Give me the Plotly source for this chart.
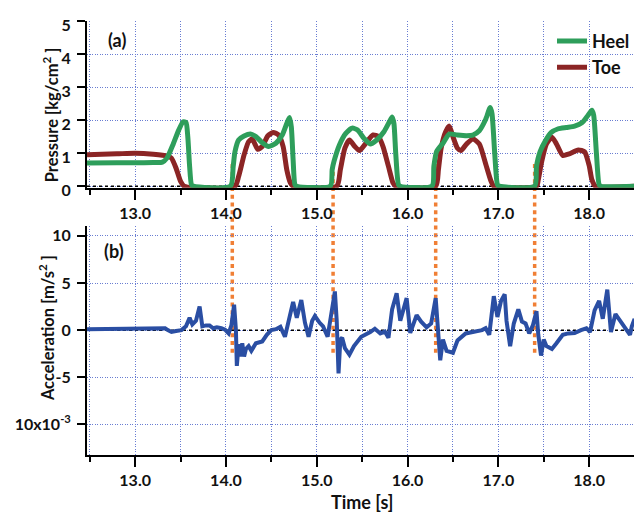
import plotly.graph_objects as go

# ---------------- data ----------------
heel_t = [12.47, 12.8, 13.0, 13.2, 13.30, 13.35, 13.42, 13.48, 13.53, 13.56, 13.58, 13.60, 13.62, 13.64,
          14.05, 14.08, 14.10, 14.14, 14.20, 14.27, 14.33, 14.40, 14.47, 14.55, 14.62, 14.67, 14.70, 14.72, 14.74, 14.76, 14.78,
          15.15, 15.17, 15.19, 15.25, 15.32, 15.39, 15.45, 15.52, 15.59, 15.66, 15.74, 15.80, 15.83, 15.85, 15.87, 15.90, 15.92,
          16.27, 16.29, 16.32, 16.39, 16.46, 16.55, 16.65, 16.72, 16.79, 16.86, 16.91, 16.93, 16.96, 16.99, 17.01,
          17.40, 17.42, 17.46, 17.52, 17.58, 17.66, 17.75, 17.84, 17.92, 17.98, 18.03, 18.05, 18.08, 18.11, 18.13, 18.50]
heel_p = [0.70, 0.71, 0.71, 0.72, 0.73, 0.85, 1.28, 1.70, 1.95, 1.93, 1.50, 0.60, 0.05, 0.0,
          0.0, 0.60, 1.05, 1.40, 1.52, 1.58, 1.50, 1.32, 1.20, 1.30, 1.55, 1.90, 2.08, 1.80, 0.80, 0.05, 0.0,
          0.0, 0.50, 0.75, 1.25, 1.60, 1.76, 1.70, 1.45, 1.28, 1.40, 1.65, 1.95, 2.10, 1.90, 1.00, 0.05, 0.0,
          0.0, 0.60, 1.05, 1.30, 1.58, 1.55, 1.53, 1.55, 1.68, 2.02, 2.38, 2.20, 1.00, 0.05, 0.0,
          0.0, 0.60, 1.05, 1.38, 1.62, 1.74, 1.78, 1.82, 1.92, 2.12, 2.30, 2.15, 1.00, 0.05, 0.0, 0.0]

toe_t = [12.47, 12.8, 13.0, 13.2, 13.35, 13.40, 13.45, 13.50, 13.54,
         14.10, 14.14, 14.20, 14.25, 14.29, 14.35, 14.40, 14.46, 14.52, 14.58, 14.63, 14.67, 14.71, 14.74,
         15.22, 15.26, 15.31, 15.36, 15.42, 15.47, 15.54, 15.62, 15.68, 15.73, 15.79, 15.84, 15.87,
         16.31, 16.34, 16.37, 16.42, 16.46, 16.50, 16.55, 16.59, 16.65, 16.72, 16.79, 16.86, 16.92, 16.95,
         17.42, 17.44, 17.48, 17.53, 17.59, 17.64, 17.71, 17.78, 17.88, 17.95, 18.00, 18.03, 18.07, 18.50]
toe_p = [0.95, 0.98, 1.00, 0.97, 0.92, 0.85, 0.55, 0.15, 0.0,
         0.0, 0.30, 0.95, 1.35, 1.43, 1.12, 1.20, 1.52, 1.63, 1.55, 1.20, 0.50, 0.10, 0.0,
         0.0, 0.50, 1.15, 1.40, 1.20, 1.08, 1.30, 1.55, 1.50, 1.20, 0.60, 0.10, 0.0,
         0.0, 0.50, 1.15, 1.65, 1.82, 1.50, 1.15, 1.08, 1.28, 1.43, 1.28, 0.68, 0.15, 0.0,
         0.0, 0.20, 0.78, 1.28, 1.48, 1.28, 0.93, 0.98, 1.10, 1.04, 0.63, 0.20, 0.0, 0.0]

acc_t = [12.47, 12.8, 13.0, 13.2, 13.33, 13.36, 13.40, 13.45, 13.51, 13.56, 13.60, 13.63, 13.67, 13.71, 13.74,
         13.78, 13.82, 13.86, 13.90, 13.95, 13.99, 14.03, 14.06, 14.09, 14.11, 14.12, 14.14, 14.16, 14.18, 14.20,
         14.22, 14.25, 14.28, 14.33, 14.40, 14.45, 14.50, 14.55, 14.60, 14.65, 14.69, 14.74, 14.78, 14.83, 14.87,
         14.91, 14.95, 14.98, 15.03, 15.07, 15.12, 15.15, 15.20, 15.22, 15.24, 15.26, 15.28, 15.31, 15.36, 15.41,
         15.49, 15.59, 15.64, 15.70, 15.75, 15.79, 15.83, 15.88, 15.92, 15.99, 16.03, 16.10, 16.15, 16.21, 16.26,
         16.31, 16.34, 16.36, 16.39, 16.43, 16.50, 16.55, 16.64, 16.73, 16.82, 16.86, 16.90, 16.95, 16.99, 17.03,
         17.07, 17.09, 17.13, 17.17, 17.22, 17.26, 17.30, 17.34, 17.38, 17.42, 17.44, 17.47, 17.50, 17.53, 17.59,
         17.64, 17.71, 17.77, 17.84, 17.91, 17.97, 18.01, 18.06, 18.11, 18.15, 18.20, 18.24, 18.29, 18.35, 18.40,
         18.45, 18.47, 18.50]
acc_v = [0.1, 0.1, 0.1, 0.12, 0.2, 0.0, -0.2, -0.1, 0.0, 0.4, 1.3, 0.6, 1.0, 2.5, 0.4,
         0.5, 0.5, 0.2, 0.3, 0.2, 0.05, -0.35, 0.5, 2.7, 0.0, -3.8, -1.5, -2.8, -1.4, -2.8,
         -2.0, -1.7, -2.2, -1.4, -1.2, -0.5, 0.0, 0.1, 0.35, -0.7, 0.8, 3.0, 1.3, 3.2, 0.8,
         -0.7, 1.0, 1.5, 0.8, 0.4, -0.7, 1.0, 4.1, 1.0, -4.6, -1.0, -0.8, -1.9, -2.6, -1.7,
         -0.7, -0.2, 0.15, -0.35, -0.15, -0.8, 2.2, 3.9, 1.0, 3.4, -0.3, 1.6, 0.9, 0.3, 0.7,
         3.4, -0.1, -3.2, -1.0, -2.2, -2.4, -1.1, -0.35, -0.2, 0.0, 0.2, -0.5, 3.6, 1.4, 3.1,
         3.8, 1.0, -1.7, 0.7, 2.2, 0.9, 0.7, -0.35, 0.5, 2.0, -0.5, -2.7, -1.0, -1.7, -2.0,
         -1.4, -0.5, -0.35, -0.3, 0.0, 0.2, -0.2, 2.1, 3.1, 1.2, 4.3, -0.2, 1.7, 0.9, 0.2,
         -0.5, 0.4, 1.2]

step_times = [14.07, 15.18, 16.31, 17.40]
step_top_pressure = 0.7
step_bottom_acc = -2.4

x_major_ticks = [13.0, 14.0, 15.0, 16.0, 17.0, 18.0]
y1_ticks = [0, 1, 2, 3, 4, 5]
y2_ticks = [-10, -5, 0, 5, 10]
y2_ticktext = ["10x10<sup>-3</sup>", "-5", "0", "5", "10"]

# ---------------- style ----------------
GREEN = "#2e9e5b"
RED = "#8b2525"
BLUE = "#2a4ea3"
ORANGE = "#f07f35"
GRID = "rgb(105,125,210)"
GRID_DASH = "1px,1.5px"
FONT = "Lato"

x_range = [12.47, 18.505]
y1_range = [-0.045, 5.003]
y2_range = [-13.25, 11.0]
dom1 = [0.6159, 1.0]
dom2 = [0.0, 0.5266]


def to_paper(v, rng, dom):
    return dom[0] + (v - rng[0]) / (rng[1] - rng[0]) * (dom[1] - dom[0])


fig = go.Figure()

# zero reference lines
fig.add_trace(go.Scatter(x=x_range, y=[0, 0], mode="lines", xaxis="x", yaxis="y",
                         line=dict(color="black", width=1.5, dash="dot"), showlegend=False, hoverinfo="skip"))
fig.add_trace(go.Scatter(x=x_range, y=[0, 0], mode="lines", xaxis="x2", yaxis="y2",
                         line=dict(color="black", width=1.5, dash="dot"), showlegend=False, hoverinfo="skip"))

fig.add_trace(go.Scatter(x=toe_t, y=toe_p, mode="lines", name="Toe", xaxis="x", yaxis="y",
                         line=dict(color=RED, width=5, shape="spline", smoothing=0.6), showlegend=True))
fig.add_trace(go.Scatter(x=heel_t, y=heel_p, mode="lines", name="Heel", xaxis="x", yaxis="y",
                         line=dict(color=GREEN, width=5, shape="spline", smoothing=0.6), showlegend=True))
fig.add_trace(go.Scatter(x=acc_t, y=acc_v, mode="lines", name="Acceleration", xaxis="x2", yaxis="y2",
                         line=dict(color=BLUE, width=4), showlegend=False))

# orange dotted step markers spanning both panels
y_top = to_paper(step_top_pressure, y1_range, dom1)
y_bot = to_paper(step_bottom_acc, y2_range, dom2)
for t in step_times:
    fig.add_shape(type="line", xref="x", yref="paper", x0=t, x1=t, y0=y_bot, y1=y_top,
                  line=dict(color=ORANGE, width=3.5, dash="4px,3.7px"), layer="below")

tickfont = dict(family=FONT, size=16, color="#111111", weight="bold")

xaxis_common = dict(
    range=x_range, showline=True, linecolor="black", linewidth=2,
    ticks="outside", ticklen=10, tickwidth=2, tickcolor="black",
    tickmode="array", tickvals=x_major_ticks, ticktext=[f"{v:.1f}" for v in x_major_ticks],
    tickfont=tickfont, showgrid=True, gridcolor=GRID, gridwidth=1, griddash=GRID_DASH,
    minor=dict(dtick=0.5, tick0=12.5, ticks="outside", ticklen=5, tickwidth=2, tickcolor="black",
               showgrid=True, gridcolor=GRID, gridwidth=1, griddash=GRID_DASH),
    zeroline=False,
)

fig.update_layout(
    width=642, height=516,
    margin=dict(l=71, r=15, t=7, b=69),
    paper_bgcolor="white", plot_bgcolor="rgba(0,0,0,0)",
    font=dict(family=FONT, color="#111111"),
    xaxis=dict(**xaxis_common, domain=[0, 1], anchor="y"),
    xaxis2=dict(**xaxis_common, domain=[0, 1], anchor="y2"),
    yaxis=dict(domain=dom1, range=y1_range, anchor="x", showline=True, linecolor="black", linewidth=2,
               ticks="outside", ticklen=8, tickwidth=2, tickcolor="black", ticklabelstandoff=3,
               ticklabelshift=4,
               tickmode="array", tickvals=y1_ticks, tickfont=tickfont, showgrid=True, gridcolor=GRID,
               gridwidth=1, griddash=GRID_DASH, zeroline=False),
    yaxis2=dict(domain=dom2, range=y2_range, anchor="x2", showline=True, linecolor="black", linewidth=2,
                ticks="outside", ticklen=8, tickwidth=2, tickcolor="black", ticklabelstandoff=3,
                tickmode="array", tickvals=y2_ticks, ticktext=y2_ticktext, tickfont=tickfont,
                showgrid=True, gridcolor=GRID, gridwidth=1, griddash=GRID_DASH, zeroline=False),
    legend=dict(x=1.0, xanchor="right", y=0.996, yanchor="top", bgcolor="rgba(0,0,0,0)",
                font=dict(family=FONT, size=18, color="#111111", weight="bold"),
                traceorder="reversed", itemwidth=30, tracegroupgap=0),
    showlegend=True,
)

title_font = dict(family=FONT, size=18, color="#111111", weight="bold")
ytitle_font = dict(family=FONT, size=16.5, color="#111111", weight="bold")
fig.add_annotation(text="Pressure [kg/cm<sup>2</sup> ]", textangle=-90, xref="paper", yref="y",
                   x=-0.065, y=2.16, xanchor="center", yanchor="middle", showarrow=False, font=ytitle_font)
fig.add_annotation(text="Acceleration [m/s<sup>2</sup> ]", textangle=-90, xref="paper", yref="y2",
                   x=-0.074, y=0.26, xanchor="center", yanchor="middle", showarrow=False, font=ytitle_font)
fig.add_annotation(text="Time [s]", xref="x2", yref="paper", x=15.5, y=-0.109,
                   xanchor="center", yanchor="middle", showarrow=False, font=title_font)
fig.add_annotation(text="(a)", xref="x", yref="y", x=12.80, y=4.42,
                   xanchor="center", yanchor="middle", showarrow=False, font=title_font)
fig.add_annotation(text="(b)", xref="x2", yref="y2", x=12.77, y=8.4,
                   xanchor="center", yanchor="middle", showarrow=False, font=title_font)

fig.write_html("out.html")
